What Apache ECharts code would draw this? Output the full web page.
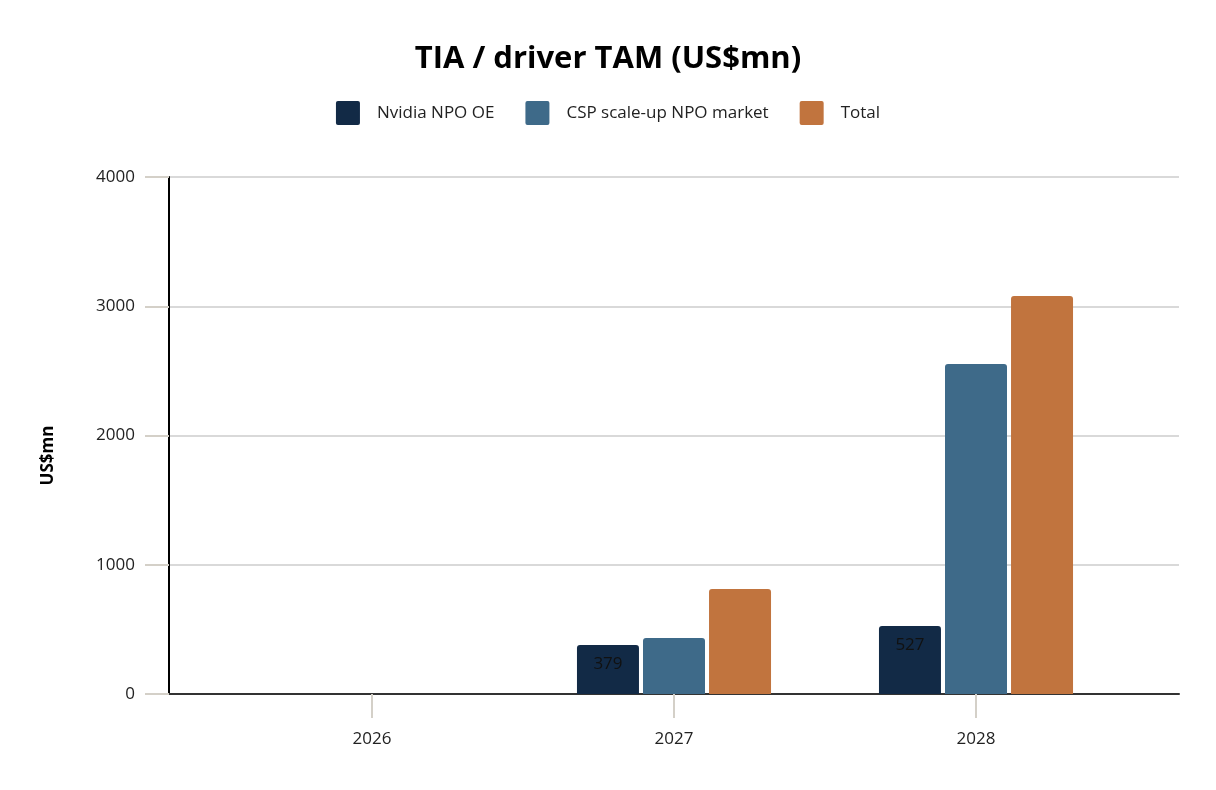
<!DOCTYPE html>
<html>
<head>
    <meta charset="utf-8">
    <title>TIA / driver TAM</title>
    <script src="https://cdn.jsdelivr.net/npm/echarts@6.0.0/dist/echarts.min.js"></script>
    <style>
        html, body { margin: 0; padding: 0; background: #fff; }
        #chart { width: 1216px; height: 790px; }
    </style>
</head>
<body>
    <div id="chart"></div>
    <script>
        // data
        var years = ['2026', '2027', '2028'];
        var nvidiaNpoOe = [0, 379, 527];
        var cspScaleUp = [0, 433, 2553];
        var total = [0, 812, 3080];
        var yTicks = [0, 1000, 2000, 3000, 4000];

        var font = '"Open Sans", "Noto Sans", sans-serif';
        var chart = echarts.init(document.getElementById('chart'));

        // small-radius square for the legend keys
        var keyIcon = 'path://M2,0 H22 Q24,0 24,2 V22 Q24,24 22,24 H2 Q0,24 0,22 V2 Q0,0 2,0 Z';

        var option = {
            backgroundColor: '#fff',
            textStyle: { fontFamily: font },
            title: {
                text: 'TIA / driver TAM (US$mn)',
                left: 'center',
                top: 39,
                textStyle: { fontFamily: font, fontSize: 31, fontWeight: 'bold', color: '#000' }
            },
            legend: {
                top: 96,
                left: 'center',
                icon: keyIcon,
                itemWidth: 24,
                itemHeight: 24,
                itemGap: 31,
                textStyle: { fontFamily: font, fontSize: 17, color: '#222', padding: [0, 0, 0, 12] },
                data: ['Nvidia NPO OE', 'CSP scale-up NPO market', 'Total']
            },
            // grid 0: full width frame (y axis, gridlines, baseline); grid 1: the bars
            grid: [
                { left: 169, right: 37, top: 177, bottom: 96 },
                { left: 221, right: 89, top: 177, bottom: 96 }
            ],
            xAxis: [
                {
                    gridIndex: 0, type: 'value', min: 0, max: 1,
                    axisLine: { show: true, lineStyle: { color: '#333', width: 2 } },
                    axisTick: { show: false }, axisLabel: { show: false }, splitLine: { show: false }
                },
                {
                    gridIndex: 1, type: 'category', data: years,
                    axisLine: { show: false },
                    axisTick: { show: true, alignWithLabel: true, length: 24, lineStyle: { color: '#d4d0c8', width: 2 } },
                    axisLabel: { margin: 37, fontFamily: font, fontSize: 17, color: '#222' }
                }
            ],
            yAxis: [
                {
                    gridIndex: 0, type: 'value', min: yTicks[0], max: yTicks[yTicks.length - 1], interval: 1000,
                    name: 'US$mn', nameLocation: 'middle', nameGap: 112,
                    nameTextStyle: { fontFamily: font, fontSize: 17, fontWeight: 'bold', color: '#000', padding: [0, 40, 0, 0] },
                    axisLine: { show: true, lineStyle: { color: '#000', width: 2 } },
                    axisTick: { show: true, length: 24, lineStyle: { color: '#d4d0c8', width: 2 } },
                    axisLabel: {
                        margin: 34, fontFamily: font, fontSize: 17, color: '#222',
                        formatter: function (v) { return String(v); }
                    },
                    splitLine: { show: true, lineStyle: { color: '#cccccc', width: 1.5 } }
                },
                {
                    gridIndex: 1, type: 'value', min: yTicks[0], max: yTicks[yTicks.length - 1], show: false
                }
            ],
            series: [
                {
                    name: 'Nvidia NPO OE', type: 'bar', xAxisIndex: 1, yAxisIndex: 1,
                    data: nvidiaNpoOe, barWidth: 62, barGap: '6.5%',
                    itemStyle: { color: '#122a46', borderRadius: [3, 3, 0, 0] },
                    label: {
                        show: true, position: 'insideTop', distance: 11,
                        fontFamily: font, fontSize: 17, color: '#111',
                        formatter: function (p) { return p.value ? String(p.value) : ''; }
                    }
                },
                {
                    name: 'CSP scale-up NPO market', type: 'bar', xAxisIndex: 1, yAxisIndex: 1,
                    data: cspScaleUp, barWidth: 62, barGap: '6.5%',
                    itemStyle: { color: '#3e6a89', borderRadius: [3, 3, 0, 0] }
                },
                {
                    name: 'Total', type: 'bar', xAxisIndex: 1, yAxisIndex: 1,
                    data: total, barWidth: 62, barGap: '6.5%',
                    itemStyle: { color: '#c1743e', borderRadius: [3, 3, 0, 0] }
                }
            ]
        };
        chart.setOption(option);
    </script>
</body>
</html>
